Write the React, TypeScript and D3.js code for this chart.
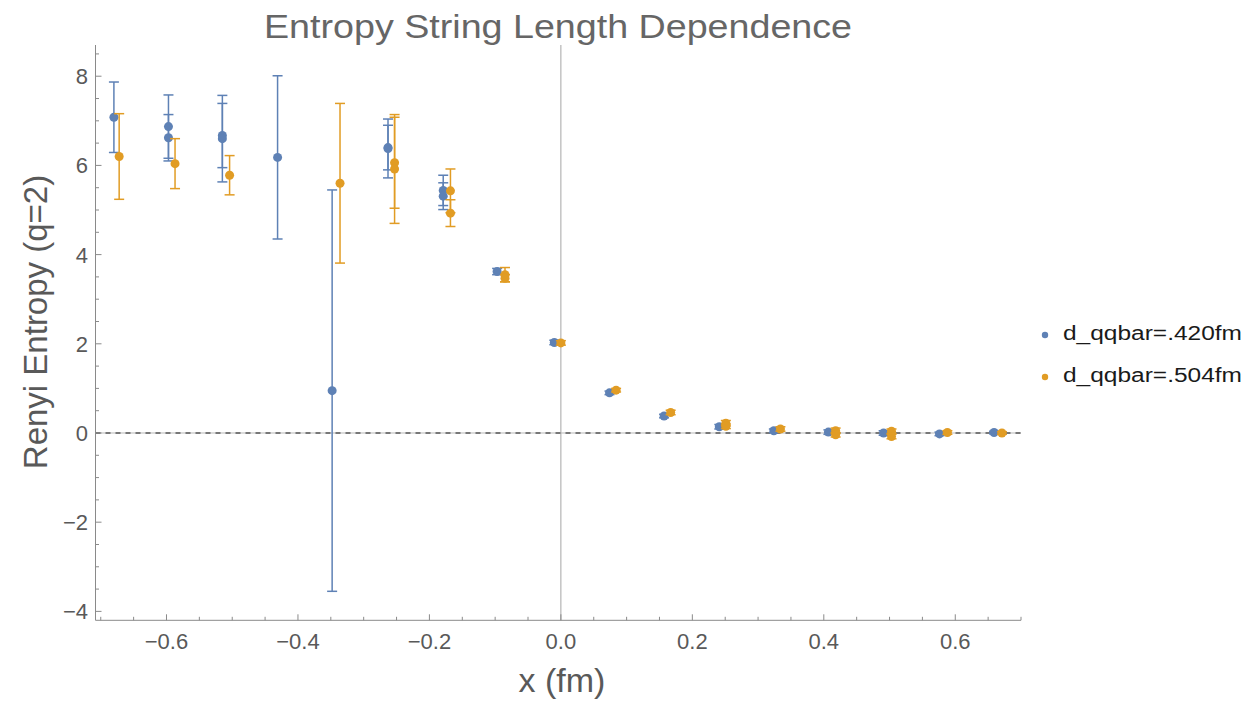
import React from "react";
import * as d3 from "d3";

// Series d_qqbar = .420 fm
const blueX = [-0.68, -0.597, -0.597, -0.515, -0.515, -0.431, -0.348, -0.263, -0.263, -0.179, -0.179, -0.097, -0.01, 0.074, 0.157, 0.241, 0.324, 0.407, 0.491, 0.576, 0.659];
const blueY = [7.08, 6.87, 6.62, 6.67, 6.6, 6.18, 0.95, 6.38, 6.4, 5.44, 5.31, 3.62, 2.03, 0.9, 0.38, 0.14, 0.05, 0.02, 0.0, -0.02, 0.01];
const blueErr = [0.79, 0.71, 0.52, 0.72, 0.97, 1.83, 4.5, 0.66, 0.5, 0.34, 0.3, 0.07, 0.05, 0.04, 0.04, 0.05, 0.04, 0.05, 0.05, 0.04, 0.03];

// Series d_qqbar = .504 fm
const orangeX = [-0.672, -0.587, -0.504, -0.336, -0.253, -0.253, -0.168, -0.168, -0.085, -0.085, 0.0, 0.084, 0.167, 0.251, 0.251, 0.334, 0.418, 0.418, 0.503, 0.503, 0.588, 0.671];
const orangeY = [6.2, 6.04, 5.78, 5.6, 6.06, 5.92, 5.43, 4.93, 3.55, 3.47, 2.02, 0.96, 0.46, 0.22, 0.15, 0.09, 0.05, -0.04, 0.04, -0.08, 0.01, 0.0];
const orangeErr = [0.96, 0.56, 0.44, 1.79, 1.02, 1.22, 0.49, 0.3, 0.16, 0.08, 0.05, 0.04, 0.05, 0.06, 0.05, 0.05, 0.06, 0.05, 0.05, 0.05, 0.04, 0.03];

const seriesNames = ["d_qqbar=.420fm", "d_qqbar=.504fm"];
const seriesColors = ["#5e81b5", "#e19c24"];

const xTicks = [-0.6, -0.4, -0.2, 0, 0.2, 0.4, 0.6];
const yTicks = [-4, -2, 0, 2, 4, 6, 8];

const titleText = "Entropy String Length Dependence";
const xLabel = "x (fm)";
const yLabel = "Renyi Entropy (q=2)";

const FONT = "'Liberation Sans', Arial, Helvetica, sans-serif";

export default function App() {
  const W = 1248;
  const H = 704;
  const x = d3.scaleLinear().domain([-0.708, 0.7]).range([95.5, 1021]);
  const y = d3.scaleLinear().domain([-4.2, 8.7]).range([620.3, 45]);
  const [x0, x1] = x.range();
  const [yb, yt] = y.range();

  const xMinor = d3.range(-14, 15).map((i) => i * 0.05).filter((v) => !xTicks.some((t) => Math.abs(t - v) < 1e-6));
  const yMinor = d3.range(-8, 18).map((i) => i * 0.5).filter((v) => !yTicks.some((t) => Math.abs(t - v) < 1e-6));
  const fx = d3.format(".1f");
  const fy = d3.format("d");

  const series = [
    { xs: blueX, ys: blueY, es: blueErr, color: seriesColors[0] },
    { xs: orangeX, ys: orangeY, es: orangeErr, color: seriesColors[1] },
  ];

  const axisColor = "#8a8a8a";
  const labelColor = "#595959";

  return (
    <svg width={W} height={H} style={{ position: "absolute", left: 0, top: 0, background: "#fff" }} fontFamily={FONT}>
      {/* origin lines */}
      <line x1={x(0)} x2={x(0)} y1={yt} y2={yb} stroke="#a5a5a5" strokeWidth={1} />
      <line x1={x0} x2={x1} y1={y(0)} y2={y(0)} stroke="#b8b8b8" strokeWidth={1} />
      <line x1={x0} x2={x1} y1={y(0)} y2={y(0)} stroke="#787878" strokeWidth={1.8} strokeDasharray="5,5" />

      {/* axes */}
      <line x1={x0} x2={x1} y1={yb} y2={yb} stroke={axisColor} strokeWidth={1} />
      <line x1={x0} x2={x0} y1={yt} y2={yb} stroke={axisColor} strokeWidth={1} />
      {xTicks.map((t) => (
        <g key={"xt" + t}>
          <line x1={x(t)} x2={x(t)} y1={yb} y2={yb - 6} stroke={axisColor} />
          <text x={x(t)} y={649} textAnchor="middle" fontSize={22} fill={labelColor}>{fx(t)}</text>
        </g>
      ))}
      {xMinor.map((t) => (
        <line key={"xm" + t} x1={x(t)} x2={x(t)} y1={yb} y2={yb - 3.5} stroke={axisColor} />
      ))}
      {yTicks.map((t) => (
        <g key={"yt" + t}>
          <line x1={x0} x2={x0 + 6} y1={y(t)} y2={y(t)} stroke={axisColor} />
          <text x={88} y={y(t)} dy="0.36em" textAnchor="end" fontSize={22} fill={labelColor}>{fy(t)}</text>
        </g>
      ))}
      {yMinor.map((t) => (
        <line key={"ym" + t} x1={x0} x2={x0 + 3.5} y1={y(t)} y2={y(t)} stroke={axisColor} />
      ))}

      {/* error bars and points */}
      {series.map((s, si) => (
        <g key={"s" + si}>
          {s.xs.map((xv, i) => {
            const cx = x(xv);
            const top = y(s.ys[i] + s.es[i]);
            const bot = y(s.ys[i] - s.es[i]);
            return (
              <g key={i} stroke={s.color} strokeWidth={1.5}>
                <line x1={cx} x2={cx} y1={top} y2={bot} />
                <line x1={cx - 5} x2={cx + 5} y1={top} y2={top} />
                <line x1={cx - 5} x2={cx + 5} y1={bot} y2={bot} />
              </g>
            );
          })}
          {s.xs.map((xv, i) => (
            <circle key={"p" + i} cx={x(xv)} cy={y(s.ys[i])} r={4.5} fill={s.color} />
          ))}
        </g>
      ))}

      {/* title and axis labels */}
      <text x={558} y={37.5} textAnchor="middle" fontSize={34} fill="#666" textLength={588} lengthAdjust="spacingAndGlyphs">{titleText}</text>
      <text x={562} y={692} textAnchor="middle" fontSize={34} fill={labelColor}>{xLabel}</text>
      <text transform={`translate(47,322) rotate(-90)`} textAnchor="middle" fontSize={33} fill={labelColor}>{yLabel}</text>

      {/* legend */}
      {seriesNames.map((name, i) => (
        <g key={"lg" + i}>
          <circle cx={1045} cy={335 + i * 42} r={3.2} fill={seriesColors[i]} />
          <text x={1063} y={339.5 + i * 42} fontSize={20} fill="#1a1a1a" textLength={179} lengthAdjust="spacingAndGlyphs">{name}</text>
        </g>
      ))}
    </svg>
  );
}
